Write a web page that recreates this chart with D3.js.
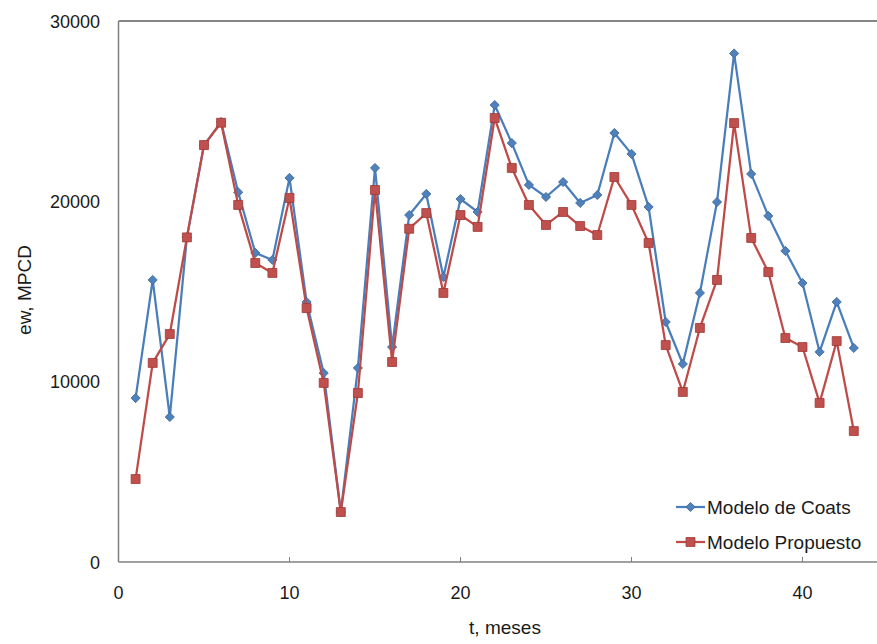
<!DOCTYPE html>
<html>
<head>
<meta charset="utf-8">
<script src="https://cdn.jsdelivr.net/npm/d3@7"></script>
<style>
  body { margin: 0; background: #fff; }
  svg text { font-family: "Liberation Sans", Arial, sans-serif; fill: #1a1a1a; }
</style>
</head>
<body>
<div id="chart"></div>
<script>
// Months 1..43
const months = d3.range(1, 44);

// Modelo de Coats (blue diamonds)
const coats = [
  9090, 15640, 8040, 18000, 23120, 24400, 20500, 17140, 16750, 21300,
  14420, 10480, 2770, 10760, 21850, 11920, 19240, 20410, 15800, 20130,
  19410, 25340, 23230, 20910, 20240, 21070, 19910, 20350, 23790, 22630,
  19690, 13310, 10980, 14920, 19960, 28200, 21520, 19190, 17250, 15470,
  11650, 14420, 11870
];

// Modelo Propuesto (red squares)
const propuesto = [
  4600, 11040, 12640, 18000, 23120, 24360, 19800, 16580, 16030, 20190,
  14080, 9930, 2770, 9370, 20630, 11090, 18480, 19350, 14920, 19240,
  18580, 24620, 21850, 19800, 18690, 19410, 18630, 18130, 21350, 19800,
  17690, 12030, 9430, 12980, 15640, 24340, 17970, 16080, 12420, 11920,
  8820, 12250, 7260
];

const xTicks = [0, 10, 20, 30, 40];
const yTicks = [0, 10000, 20000, 30000];

const seriesNames = ["Modelo de Coats", "Modelo Propuesto"];
const W = 877, H = 644;

const svg = d3.select("#chart").append("svg")
  .attr("width", W)
  .attr("height", H);

const x = d3.scaleLinear().domain([0, 45]).range([118.5, 118.5 + 45 * 17.1]);
const y = d3.scaleLinear().domain([0, 30000]).range([562, 21]);

const frameColor = "#808080";

// Frame: top and left border, bottom axis
svg.append("line")
  .attr("x1", x(0)).attr("x2", W)
  .attr("y1", y(30000)).attr("y2", y(30000))
  .attr("stroke", "#5e5e5e").attr("stroke-width", 1.5);
svg.append("line")
  .attr("x1", x(0)).attr("x2", x(0))
  .attr("y1", y(30000)).attr("y2", y(0))
  .attr("stroke", frameColor).attr("stroke-width", 1.5);
svg.append("line")
  .attr("x1", x(0)).attr("x2", W)
  .attr("y1", y(0)).attr("y2", y(0))
  .attr("stroke", frameColor).attr("stroke-width", 1.5);

// x ticks (small, pointing into the plot)
svg.selectAll("line.xtick")
  .data(xTicks.filter(d => d > 0))
  .enter().append("line")
  .attr("class", "xtick")
  .attr("x1", d => x(d)).attr("x2", d => x(d))
  .attr("y1", y(0)).attr("y2", y(0) - 5)
  .attr("stroke", frameColor);

// tick labels
svg.selectAll("text.xlab")
  .data(xTicks)
  .enter().append("text")
  .attr("class", "xlab")
  .attr("x", d => x(d))
  .attr("y", 599)
  .attr("text-anchor", "middle")
  .style("font-size", "18px")
  .text(d => d);

svg.selectAll("text.ylab")
  .data(yTicks)
  .enter().append("text")
  .attr("class", "ylab")
  .attr("x", 100)
  .attr("y", d => y(d) + 6.5)
  .attr("text-anchor", "end")
  .style("font-size", "18px")
  .text(d => d);

// axis titles
svg.append("text")
  .attr("x", 505)
  .attr("y", 634)
  .attr("text-anchor", "middle")
  .style("font-size", "19px")
  .text("t, meses");

svg.append("text")
  .attr("transform", "translate(31,290) rotate(-90)")
  .attr("text-anchor", "middle")
  .style("font-size", "19px")
  .text("ew, MPCD");

// series; the diamond is a square turned 45 degrees
const styles = [
  { values: coats, line: "#4A7EBB", fill: "#4F81BD", stroke: "#3C6796", size: 42, rot: 45 },
  { values: propuesto, line: "#BE4B48", fill: "#C0504D", stroke: "#9E3835", size: 80, rot: 0 }
];

const line = d3.line()
  .x((d, i) => x(months[i]))
  .y(d => y(d));

const marker = d3.symbol().type(d3.symbolSquare);

styles.forEach(s => {
  svg.append("path")
    .datum(s.values)
    .attr("fill", "none")
    .attr("stroke", s.line)
    .attr("stroke-width", 2.25)
    .attr("stroke-linejoin", "round")
    .attr("d", line);

  svg.append("g").selectAll("path")
    .data(s.values)
    .enter().append("path")
    .attr("transform", (d, i) => `translate(${x(months[i])},${y(d)}) rotate(${s.rot})`)
    .attr("d", marker.size(s.size)())
    .attr("fill", s.fill)
    .attr("stroke", s.stroke)
    .attr("stroke-width", 0.8);
});

// legend
const legend = svg.append("g").attr("transform", "translate(676,0)");
seriesNames.forEach((name, i) => {
  const s = styles[i];
  const ly = 507 + i * 35;
  legend.append("line")
    .attr("x1", 0).attr("x2", 29)
    .attr("y1", ly).attr("y2", ly)
    .attr("stroke", s.line).attr("stroke-width", 2.25);
  legend.append("path")
    .attr("transform", `translate(14.5,${ly}) rotate(${s.rot})`)
    .attr("d", marker.size(s.size)())
    .attr("fill", s.fill)
    .attr("stroke", s.stroke)
    .attr("stroke-width", 0.8);
  legend.append("text")
    .attr("x", 31)
    .attr("y", ly + 6.5)
    .style("font-size", "19px")
    .text(name);
});
</script>
</body>
</html>
